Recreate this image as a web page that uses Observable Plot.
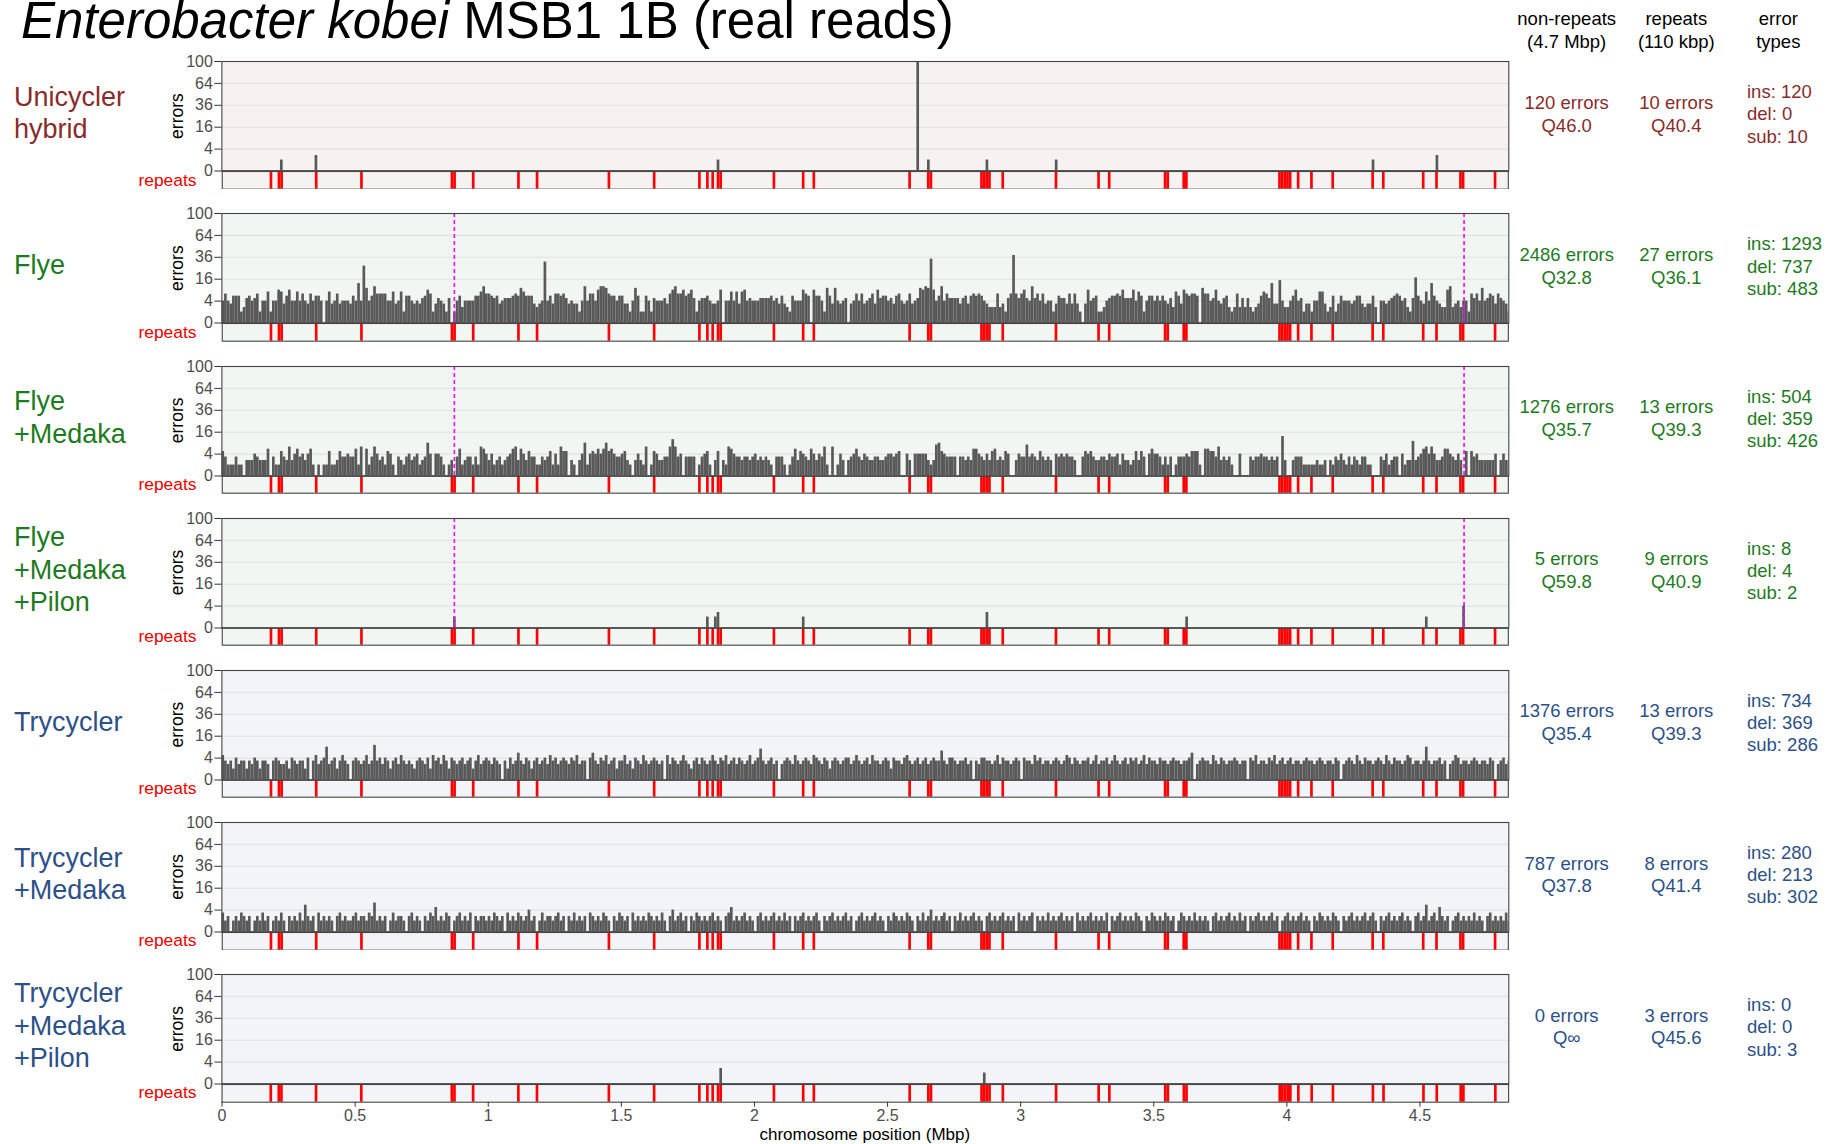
<!DOCTYPE html>
<html><head><meta charset="utf-8">
<script src="https://cdn.jsdelivr.net/npm/d3@7"></script>
<script src="https://cdn.jsdelivr.net/npm/@observablehq/plot@0.6"></script>
<style>
body{margin:0;background:#fff;}
#root{position:relative;width:1847px;height:1144px;overflow:hidden;background:#fff;}
</style></head><body><div id="root"></div>
<script>
// ---------------- data ----------------
const BIN = 0.01;      // bin width, Mbp (10 kbp)
const X_MAX = 4.833;   // chromosome length shown, Mbp

const panelNames = ["Unicycler\nhybrid", "Flye", "Flye\n+Medaka", "Flye\n+Medaka\n+Pilon", "Trycycler", "Trycycler\n+Medaka", "Trycycler\n+Medaka\n+Pilon"];
const panelColors = ["#8a2b2b", "#1e7a1e", "#1e7a1e", "#1e7a1e", "#2c5088", "#2c5088", "#2c5088"];
const panelBg = ["#f6f2f1", "#f2f6f3", "#f2f6f3", "#f2f6f3", "#f3f4f8", "#f3f4f8", "#f3f4f8"];

const nonRepeatErrors = ["120 errors", "2486 errors", "1276 errors", "5 errors", "1376 errors", "787 errors", "0 errors"];
const nonRepeatQ = ["Q46.0", "Q32.8", "Q35.7", "Q59.8", "Q35.4", "Q37.8", "Q∞"];
const repeatErrors = ["10 errors", "27 errors", "13 errors", "9 errors", "13 errors", "8 errors", "3 errors"];
const repeatQ = ["Q40.4", "Q36.1", "Q39.3", "Q40.9", "Q39.3", "Q41.4", "Q45.6"];
const insCounts = ["ins: 120", "ins: 1293", "ins: 504", "ins: 8", "ins: 734", "ins: 280", "ins: 0"];
const delCounts = ["del: 0", "del: 737", "del: 359", "del: 4", "del: 369", "del: 213", "del: 0"];
const subCounts = ["sub: 10", "sub: 483", "sub: 426", "sub: 2", "sub: 286", "sub: 302", "sub: 3"];

const headerLines = [["non-repeats", "(4.7 Mbp)"], ["repeats", "(110 kbp)"], ["error", "types"]];

const yTicks = [0, 4, 16, 36, 64, 100];
const yGrid = [4, 16, 36, 64];
const xTicks = [0, 0.5, 1, 1.5, 2, 2.5, 3, 3.5, 4, 4.5];

// repeat bins (start position, Mbp)
const repeatBins = [0.18, 0.21, 0.22, 0.35, 0.52, 0.86, 0.87, 0.94, 1.11, 1.18, 1.45, 1.62, 1.79, 1.82, 1.84, 1.86, 1.87,
  2.07, 2.18, 2.22, 2.58, 2.65, 2.66, 2.85, 2.86, 2.87, 2.88, 2.93, 3.13, 3.29, 3.33, 3.54, 3.55, 3.61, 3.62,
  3.97, 3.98, 3.99, 4.00, 4.01, 4.04, 4.09, 4.17, 4.32, 4.36, 4.51, 4.56, 4.65, 4.66, 4.78];

// dashed magenta markers (Mbp), shown on the Flye panels
const markerPos = [0.873, 4.665];
const markerPanels = [1, 2, 3];

// sparse panels: bin start (Mbp) and error count
const unicyclerBins = [0.22, 0.35, 1.86, 2.61, 2.65, 2.87, 3.13, 4.32, 4.56];
const unicyclerCounts = [1, 2, 1, 120, 1, 1, 1, 1, 2];
const flyePilonBins = [0.87, 1.82, 1.85, 1.86, 2.18, 2.87, 3.62, 4.52, 4.66];
const flyePilonCounts = [1, 1, 1, 2, 1, 2, 1, 1, 4];
const trycyclerPilonBins = [1.87, 2.86];
const trycyclerPilonCounts = [2, 1];

// dense panels: error count per 10 kbp bin, starting at 0 Mbp
const flyeCounts = [
4,7,4,3,6,6,6,1,2,5, 6,4,5,7,1,4,4,8,1,4, 4,9,8,3,6,9,4,4,8,4, 7,4,3,7,4,6,6,4,0,4,
8,3,4,7,3,4,4,4,3,6, 4,13,4,27,10,4,6,11,7,7, 7,7,4,4,8,3,4,8,1,6, 6,4,3,4,3,5,6,9,7,1,
3,5,4,3,1,5,0,1,4,6, 2,4,4,4,4,6,6,8,11,7, 7,6,5,6,3,4,5,5,5,6, 7,6,10,8,6,6,6,3,2,3,
4,31,4,6,3,7,7,6,7,5, 3,4,3,3,1,4,11,4,7,7, 4,9,11,11,10,7,6,6,4,6, 6,3,3,1,4,10,6,1,1,6,
4,1,5,4,4,
4,5,3,7,9,11,7,7,9,6, 7,9,5,1,4,5,5,6,4,3, 3,4,9,0,4,4,8,4,8,3, 8,9,4,5,4,4,4,5,5,5,
5,6,4,5,3,6,3,2,1,6, 4,4,4,9,7,6,0,9,6,6, 4,1,10,6,3,10,4,3,4,5, 0,3,4,7,4,7,3,4,5,7,
3,9,5,6,6,4,5,3,6,7, 4,3,4,7,3,4,5,10,9,11, 10,34,9,4,6,11,4,7,5,5, 5,5,3,5,6,3,6,7,6,7,
6,4,3,2,2,2,7,2,3,1, 5,7,38,7,5,7,9,5,4,11, 5,7,4,7,3,4,4,1,3,6, 5,5,3,7,3,7,3,1,0,3,
9,4,5,6,1,1,
2,4,5,6,6,7,6,9,5,5, 5,9,4,8,6,1,4,6,6,4, 6,4,6,4,3,5,2,8,6,3, 9,7,6,7,7,6,0,10,7,7,
4,5,9,4,3,5,6,2,1,2, 7,2,5,2,5,2,1,2,3,6, 8,7,5,13,3,3,15,4,2,2, 4,6,9,4,5,1,3,3,1,4,
4,8,8,3,1,2,6,1,3,6, 4,4,4,3,4,6,6,3,2,3, 3,6,2,0,4,4,3,4,5,6, 7,6,4,5,2,1,5,17,6,4,
3,8,4,13,6,4,3,2,2,9, 11,2,3,4,2,4,4,1,7,5, 7,4,10,4,5,7,6,3,7,5, 4,3,1,0,2];

const flyeMedakaCounts = [
5,3,1,1,1,3,1,1,0,2, 2,2,4,3,2,2,2,6,0,3, 1,1,5,3,2,7,2,4,6,3, 4,2,4,6,1,0,1,0,1,1,
5,1,1,2,5,3,3,4,3,3, 6,1,7,0,6,1,3,7,4,2, 3,1,5,4,1,0,3,2,1,3, 4,2,3,4,1,2,3,9,4,0,
4,4,3,1,0,1,2,0,3,6, 1,2,3,3,1,3,1,7,6,4, 2,4,1,2,3,1,2,3,4,6, 7,2,6,4,2,5,3,3,1,1,
3,2,3,5,1,4,1,7,5,5, 0,2,1,0,2,4,9,1,4,5, 4,6,4,6,9,5,6,4,3,3, 4,5,2,1,0,2,4,2,1,7,
0,1,5,4,2,
2,3,3,7,11,7,3,4,0,3, 3,3,3,0,1,3,4,5,1,0, 2,5,0,2,1,7,6,4,3,3, 2,3,3,2,3,4,2,3,2,3,
2,1,0,3,3,3,1,0,1,3, 6,2,5,4,3,2,6,4,2,4, 3,7,1,0,7,0,1,4,2,0, 2,3,4,6,3,2,4,3,2,2,
3,3,2,2,3,4,4,3,4,5, 0,0,4,2,0,4,4,4,4,4, 2,1,2,8,9,5,4,3,3,3, 3,0,3,3,2,3,2,6,6,4,
3,2,4,2,5,6,2,3,2,5, 4,0,0,2,4,3,3,8,3,4, 3,2,5,3,2,3,2,0,4,3, 4,3,4,3,3,2,0,0,3,5,
4,5,3,2,2,3,
3,2,4,3,3,4,1,4,2,2, 1,2,5,2,5,3,0,4,6,4, 4,3,1,3,1,3,0,1,3,3, 3,4,3,5,5,5,1,0,6,6,
5,5,3,7,2,3,2,3,1,0, 0,4,0,0,0,3,2,3,3,4, 3,3,2,3,2,3,0,13,2,0, 0,2,3,3,3,1,1,1,1,1,
2,1,1,2,0,2,1,3,2,4, 2,1,3,1,3,2,1,3,3,1, 1,0,0,0,3,2,4,1,2,3, 3,0,4,1,2,2,10,2,3,4,
6,7,4,7,4,2,2,3,6,6, 4,3,2,4,2,0,5,0,5,3, 4,2,2,2,2,2,2,4,0,2, 4,2,2];

const trycyclerCounts = [
5,3,2,3,1,4,2,3,3,1, 3,2,4,3,1,3,3,2,0,3, 4,3,2,2,3,1,4,3,2,3, 3,1,4,0,3,5,2,3,4,9,
2,3,4,1,3,5,3,2,0,3, 4,3,2,3,5,2,3,10,3,4, 2,4,3,1,3,4,2,5,3,2, 3,2,1,3,4,3,2,4,1,5,
3,4,2,5,3,1,4,3,2,3, 4,2,3,4,1,3,5,2,3,4, 3,2,4,3,2,0,3,1,4,2, 3,6,3,2,4,3,1,3,4,2,
3,4,2,5,3,4,2,3,4,3, 2,4,3,5,2,3,3,0,4,6, 3,2,4,3,5,2,3,4,1,3, 3,5,2,3,1,4,3,2,5,3,
2,3,4,3,2,3,0,5,2,4, 3,2,3,5,3,2,1,3,4,2, 4,3,2,3,5,3,2,4,3,5, 2,3,4,2,4,3,2,3,5,2,
3,4,8,3,2,3,4,2,3,0, 2,3,4,3,2,5,3,2,3,4, 3,2,5,4,3,2,4,3,1,3, 4,3,2,3,4,4,2,3,5,3,
2,3,4,2,5,3,3,2,3,4, 3,1,4,3,3,2,4,5,3,2, 3,4,2,3,4,2,3,4,3,3, 7,3,2,4,4,3,2,3,3,4,
2,3,0,3,2,4,4,3,3,2, 3,5,2,4,3,3,2,3,4,3, 0,4,3,3,2,5,3,4,2,3, 3,2,3,4,3,2,3,5,4,2,
4,3,2,3,3,4,2,3,5,2, 3,3,4,2,3,5,3,2,3,4, 2,4,3,4,2,3,5,2,4,3, 3,2,4,3,3,2,3,4,3,3,
2,3,3,4,6,0,2,3,4,3, 3,2,5,3,2,4,3,2,3,3, 4,3,2,3,3,0,4,3,5,2, 3,3,2,4,3,5,2,3,4,2,
3,4,2,3,3,2,3,4,3,3, 2,3,4,3,2,3,3,2,4,3, 0,2,3,4,3,2,5,3,2,4, 3,3,2,3,4,3,2,5,3,2,
4,3,3,2,3,5,4,2,3,3, 2,3,9,3,2,3,3,4,2,3, 0,2,3,5,4,2,3,3,2,3, 4,3,2,3,3,2,4,3,0,2,
3,4,2,3,3,4];

const trycyclerMedakaCounts = [
3,1,2,0,1,2,1,3,2,1, 2,0,1,2,1,3,1,2,0,1, 2,1,3,1,0,2,1,2,1,3, 1,6,2,1,2,0,3,1,2,1,
2,1,0,2,3,1,2,1,1,2, 3,1,2,2,1,3,2,7,1,2, 1,2,0,1,3,1,2,2,1,0, 2,3,1,2,1,0,2,1,3,2,
5,1,2,1,3,2,0,1,2,3, 1,2,1,3,0,2,1,2,2,1, 2,1,3,2,1,2,0,3,1,2, 1,3,2,1,2,4,1,2,0,1,
3,1,2,2,1,2,3,1,2,0, 2,1,3,1,2,1,2,0,3,2, 1,2,1,3,2,1,0,2,1,3, 2,1,2,0,3,1,2,1,2,1,
3,2,1,2,1,3,1,0,2,4, 1,2,3,1,2,0,2,1,3,2, 1,2,1,2,3,1,2,1,0,2, 3,5,1,2,1,2,3,1,2,1,
0,2,3,1,2,1,2,3,1,2, 1,3,1,2,0,2,1,2,3,1, 2,1,2,3,1,0,2,1,2,3, 1,2,1,2,3,1,2,0,1,2,
3,1,2,1,2,3,1,2,1,0, 2,1,3,2,1,2,1,3,2,1, 0,2,1,3,1,2,4,1,2,1, 2,3,1,2,0,2,1,3,1,2,
1,2,3,1,2,1,0,2,3,1, 2,1,2,3,1,2,1,2,0,3, 1,2,1,2,3,0,2,1,2,1, 3,1,2,1,2,3,1,2,1,2,
0,3,1,2,1,2,3,1,2,1, 2,1,3,0,2,1,2,3,1,2, 1,2,1,3,2,1,0,2,1,3, 2,1,2,1,3,2,1,2,0,1,
3,2,1,2,1,3,1,2,1,2, 1,0,2,3,1,2,1,2,3,1, 2,1,3,1,2,0,2,1,2,3, 1,2,1,2,3,1,2,0,1,2,
3,1,2,1,2,3,1,2,1,0, 2,1,3,2,1,2,1,3,2,1, 0,2,1,2,3,1,2,1,2,3, 1,2,3,1,0,2,1,2,3,1,
2,1,2,3,1,2,1,0,2,3, 1,2,6,1,2,3,1,5,2,1, 2,0,1,2,3,1,2,1,2,1, 3,1,2,1,0,2,3,1,2,1,
2,1,3,1,2,1];

// ---------------- layout ----------------
const FONT = '"Liberation Sans", Arial, Helvetica, sans-serif';
const TICK_FONT = 16;
const SVG_W = 1520, X_LEFT = 221.4, X_RIGHT = 1508.3;
const TOP0 = 61.3, PITCH = 152.15, ERR_H = 109.5, STRIP_H = 17.7;
const ERR_MT = 10, ERR_MB = 10;
const root = document.getElementById("root");

function denseRows(counts) { return counts.map((n, i) => ({x1: i * BIN, x2: (i + 1) * BIN, n})); }
function sparseRows(bins, counts) { return bins.map((b, i) => ({x1: b, x2: b + BIN, n: counts[i]})); }

const panelRows = [
  sparseRows(unicyclerBins, unicyclerCounts),
  denseRows(flyeCounts),
  denseRows(flyeMedakaCounts),
  sparseRows(flyePilonBins, flyePilonCounts),
  denseRows(trycyclerCounts),
  denseRows(trycyclerMedakaCounts),
  sparseRows(trycyclerPilonBins, trycyclerPilonCounts)
];

function place(el, top) {
  el.style.position = "absolute";
  el.style.left = "0px";
  el.style.top = top + "px";
  root.appendChild(el);
}

panelRows.forEach((rows, k) => {
  const top = TOP0 + PITCH * k;
  const last = k === panelRows.length - 1;

  const stripPlot = Plot.plot({
    width: SVG_W, height: 1 + STRIP_H + (last ? 32 : 1),
    marginLeft: X_LEFT, marginRight: SVG_W - X_RIGHT, marginTop: 1, marginBottom: last ? 32 : 1,
    style: {background: "transparent", fontFamily: FONT, fontSize: TICK_FONT + "px", color: "#4d4d4d"},
    x: {domain: [0, X_MAX], axis: null},
    marks: [
      Plot.frame({fill: panelBg[k], stroke: null}),
      Plot.rect(repeatBins, {x1: d => d, x2: d => d + BIN, fill: "#ff0000", inset: 0}),
      last ? Plot.axisX(xTicks, {tickSize: 5, tickPadding: 2, fontSize: TICK_FONT, tickFormat: d => String(d), label: null, stroke: "#333", fill: "#4d4d4d"}) : null,
      Plot.frame({stroke: "#444", strokeWidth: 1.1})
    ]
  });
  place(stripPlot, top + ERR_H - 1);

  const errPlot = Plot.plot({
    width: SVG_W, height: ERR_MT + ERR_H + ERR_MB,
    marginLeft: X_LEFT, marginRight: SVG_W - X_RIGHT, marginTop: ERR_MT, marginBottom: ERR_MB,
    style: {background: "transparent", fontFamily: FONT, fontSize: TICK_FONT + "px", color: "#4d4d4d"},
    x: {domain: [0, X_MAX], axis: null},
    y: {type: "sqrt", domain: [0, 100], axis: null},
    marks: [
      Plot.frame({fill: panelBg[k], stroke: null}),
      Plot.gridY(yGrid, {stroke: "#e2e2e2", strokeOpacity: 1, strokeWidth: 1.1}),
      Plot.rectY(rows, {x1: "x1", x2: "x2", y1: 0, y2: "n", fill: "#595959", inset: 0, clip: true}),
      markerPanels.includes(k) ? Plot.ruleX(markerPos, {stroke: "#ff00ff", strokeWidth: 1.6, strokeDasharray: "4,3"}) : null,
      Plot.axisY(yTicks, {tickSize: 7, tickPadding: 2, fontSize: TICK_FONT, label: null, stroke: "#333", fill: "#4d4d4d"}),
      Plot.frame({stroke: "#444", strokeWidth: 1.1}),
      Plot.ruleY([0], {stroke: "#444", strokeWidth: 1.5})
    ]
  });
  place(errPlot, top - ERR_MT);
});

// ---------------- text ----------------
const svg = d3.create("svg").attr("width", 1847).attr("height", 1144)
  .style("position", "absolute").style("left", "0px").style("top", "0px")
  .attr("font-family", FONT);

const title = svg.append("text").attr("x", 21).attr("y", 37.5).attr("font-size", 51).attr("fill", "#000");
title.append("tspan").attr("font-style", "italic").text("Enterobacter kobei");
title.append("tspan").text(" MSB1 1B (real reads)");

const colX = [1566.7, 1676.3, 1778.3];
headerLines.forEach((lines, j) => {
  lines.forEach((t, i) => {
    svg.append("text").attr("x", colX[j]).attr("y", 25 + i * 23.3).attr("text-anchor", "middle")
      .attr("font-size", 18.5).attr("fill", "#000").text(t);
  });
});

panelNames.forEach((name, k) => {
  const c = TOP0 + ERR_H / 2 + PITCH * k;
  const col = panelColors[k];
  const lines = name.split("\n");
  lines.forEach((t, i) => {
    svg.append("text").attr("x", 14).attr("y", c - 3.5 + (i - (lines.length - 1) / 2) * 32.5 + 9.5)
      .attr("font-size", 27).attr("fill", col).text(t);
  });
  svg.append("text").attr("transform", `translate(182.5,${c}) rotate(-90)`).attr("text-anchor", "middle")
    .attr("font-size", 17.5).attr("fill", "#000").text("errors");
  svg.append("text").attr("x", 196.5).attr("y", c + 69.5).attr("text-anchor", "end")
    .attr("font-size", 17.4).attr("fill", "#ee0000").text("repeats");
  [[nonRepeatErrors[k], nonRepeatQ[k]], [repeatErrors[k], repeatQ[k]]].forEach((pair, j) => {
    pair.forEach((t, i) => {
      svg.append("text").attr("x", colX[j]).attr("y", c - 7.3 + i * 22.8).attr("text-anchor", "middle")
        .attr("font-size", 18.5).attr("fill", col).text(t);
    });
  });
  [insCounts[k], delCounts[k], subCounts[k]].forEach((t, i) => {
    svg.append("text").attr("x", 1747).attr("y", c - 17.8 + i * 22.2)
      .attr("font-size", 18.5).attr("fill", col).text(t);
  });
});

svg.append("text").attr("x", (X_LEFT + X_RIGHT) / 2).attr("y", 1139.5).attr("text-anchor", "middle")
  .attr("font-size", 17).attr("fill", "#000").text("chromosome position (Mbp)");

root.appendChild(svg.node());
</script></body></html>
